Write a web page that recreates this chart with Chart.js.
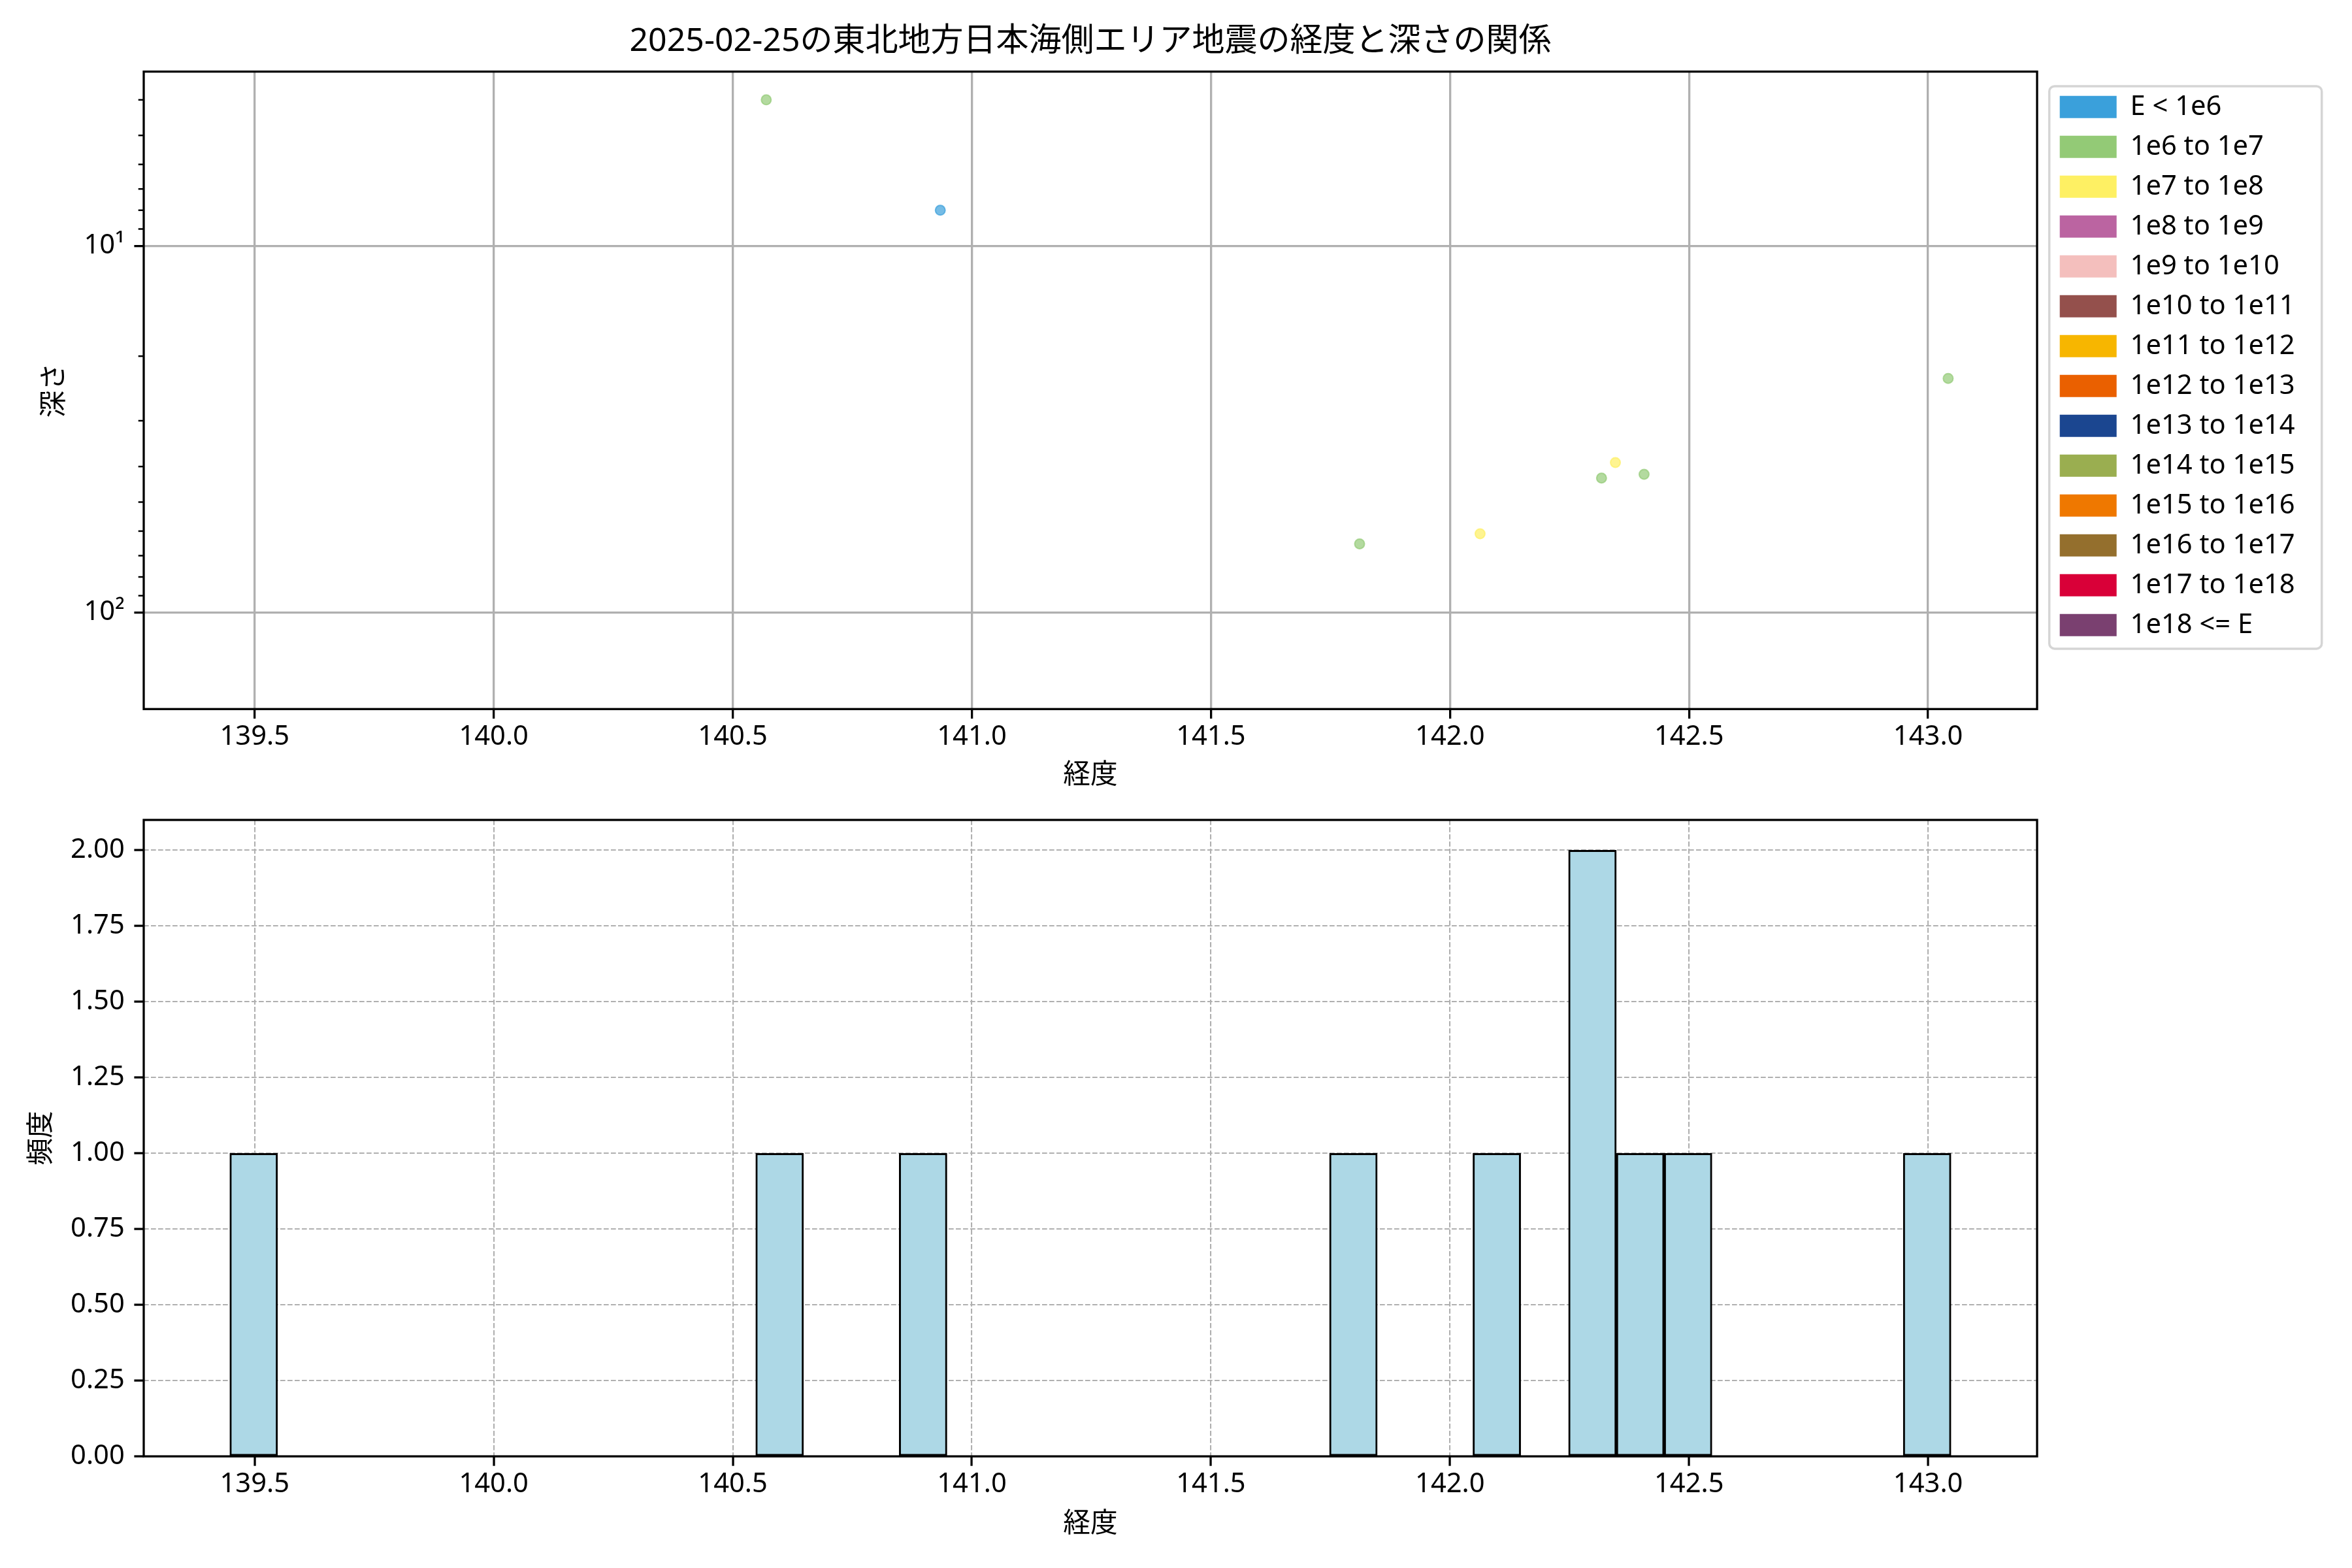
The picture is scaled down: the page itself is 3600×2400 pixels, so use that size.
<!DOCTYPE html>
<html lang="ja">
<head>
<meta charset="utf-8">
<title>経度と深さ</title>
<script src="https://cdn.jsdelivr.net/npm/chart.js@4.4.1/dist/chart.umd.min.js"></script>
<style>
  html, body { margin: 0; background: #fff; }
  #wrap { position: relative; width: 3600px; height: 2400px; }
  #depthChart { position: absolute; left: 0; top: 0; }
  #histChart { position: absolute; left: 0; top: 1215px; }
</style>
</head>
<body>
<div id="wrap">
  <canvas id="depthChart" width="3600" height="1215"></canvas>
  <canvas id="histChart" width="3600" height="1185"></canvas>
</div>
<script>
const chartTitle = '2025-02-25の東北地方日本海側エリア地震の経度と深さの関係';

const energyLabels = ['E < 1e6', '1e6 to 1e7', '1e7 to 1e8', '1e8 to 1e9', '1e9 to 1e10',
  '1e10 to 1e11', '1e11 to 1e12', '1e12 to 1e13', '1e13 to 1e14', '1e14 to 1e15',
  '1e15 to 1e16', '1e16 to 1e17', '1e17 to 1e18', '1e18 <= E'];
const energyColors = ['#3aa0db', '#93ca76', '#fef063', '#bb64a1', '#f4bfbd',
  '#94504c', '#f7b600', '#ea6000', '#1b4690', '#9aae50',
  '#ef7800', '#946f2d', '#d90038', '#7a4070'];

// visible quakes (lon, depth km, energy class index)
const quakeLon = [140.570, 140.934, 141.811, 142.063, 142.317, 142.346, 142.406, 143.042];
const quakeDepth = [4, 8, 65, 61, 43, 39, 42, 23];
const quakeClass = [1, 0, 1, 2, 1, 2, 1, 1];

// histogram bins (bin centres, width 0.1) with non-zero counts
const binCenters = [139.498, 140.598, 140.898, 141.798, 142.098, 142.298, 142.398, 142.498, 142.998];
const binCounts = [1, 1, 1, 1, 1, 2, 1, 1, 1];

const lonTicks = [139.5, 140.0, 140.5, 141.0, 141.5, 142.0, 142.5, 143.0];
const depthMajorTicks = [10, 100];
const depthMajorLabels = ['10¹', '10²'];
const depthMinorTicks = [4, 5, 6, 7, 8, 9, 20, 30, 40, 50, 60, 70, 80, 90];
const freqTicks = [0, 0.25, 0.5, 0.75, 1.0, 1.25, 1.5, 1.75, 2.0];

const lonMin = 139.268, lonMax = 143.228;
const depthMin = 3.35, depthMax = 183.4;
const plotRight = 3118;

Chart.defaults.font.family = "'Noto Sans', 'Noto Sans CJK JP', sans-serif";
Chart.defaults.font.size = 41.7;
Chart.defaults.color = '#000';

function withAlpha(hex, a) {
  const n = parseInt(hex.slice(1), 16);
  return `rgba(${(n >> 16) & 255}, ${(n >> 8) & 255}, ${n & 255}, ${a})`;
}

// black box around the plotting area (matplotlib spines)
const axesFrame = {
  id: 'axesFrame',
  afterDraw(chart) {
    const {ctx, chartArea: a} = chart;
    ctx.save();
    ctx.strokeStyle = '#000';
    ctx.lineWidth = 3.3;
    ctx.strokeRect(a.left, a.top, a.right - a.left, a.bottom - a.top);
    ctx.restore();
  }
};

const minorTicks = {
  id: 'minorTicks',
  afterDraw(chart) {
    const {ctx, chartArea: a} = chart;
    const y = chart.scales.y;
    ctx.save();
    ctx.strokeStyle = '#000';
    ctx.lineWidth = 2.5;
    depthMinorTicks.forEach(v => {
      const py = y.getPixelForValue(v);
      ctx.beginPath();
      ctx.moveTo(a.left - 8.3, py);
      ctx.lineTo(a.left, py);
      ctx.stroke();
    });
    ctx.restore();
  }
};

// legend sits just right of the axes, inside a rounded frame
const legendBox = {
  id: 'legendBox',
  afterLayout(chart) {
    const lg = chart.legend;
    const w = lg.width, h = lg.height;
    lg.left = 3133.4; lg.right = lg.left + w;
    lg.top = 123.5; lg.bottom = lg.top + h;
  },
  beforeDraw(chart) {
    const lg = chart.legend;
    const pad = lg.options.labels.padding;
    const x = lg.left + pad - 16;
    const y = lg.top + pad + 3.85 - 14.7;
    const w = 417, h = 861, r = 8;
    const ctx = chart.ctx;
    ctx.save();
    ctx.beginPath();
    ctx.moveTo(x + r, y);
    ctx.arcTo(x + w, y, x + w, y + h, r);
    ctx.arcTo(x + w, y + h, x, y + h, r);
    ctx.arcTo(x, y + h, x, y, r);
    ctx.arcTo(x, y, x + w, y, r);
    ctx.closePath();
    ctx.fillStyle = 'rgba(255,255,255,0.8)';
    ctx.fill();
    ctx.strokeStyle = '#d5d5d5';
    ctx.lineWidth = 3.5;
    ctx.stroke();
    ctx.restore();
  }
};

const scatterSets = energyLabels.map((label, c) => ({
  label,
  data: quakeLon
    .map((lon, i) => ({x: lon, y: quakeDepth[i], c: quakeClass[i]}))
    .filter(p => p.c === c),
  backgroundColor: withAlpha(energyColors[c], 0.7),
  borderColor: withAlpha(energyColors[c], 0.7),
  borderWidth: 2,
  pointRadius: 7.5,
  pointHoverRadius: 7.5
}));

const depthChart = new Chart(document.getElementById('depthChart'), {
  type: 'scatter',
  data: { datasets: scatterSets },
  options: {
    responsive: false,
    animation: false,
    events: [],
    layout: { padding: { top: 24, right: 90, bottom: 0, left: 0 } },
    plugins: {
      title: {
        display: true,
        text: chartTitle,
        fullSize: false,
        font: { size: 50, weight: 'normal' },
        padding: { top: 10, bottom: 15.6 }
      },
      legend: {
        position: 'right',
        align: 'start',
        labels: {
          boxWidth: 87,
          boxHeight: 34,
          padding: 19.3,
          font: { size: 41.7 },
          generateLabels: chart => chart.data.datasets.map((ds, i) => ({
            text: ds.label,
            fillStyle: energyColors[i],
            strokeStyle: energyColors[i],
            lineWidth: 0,
            hidden: false,
            datasetIndex: i
          }))
        }
      },
      tooltip: { enabled: false }
    },
    scales: {
      x: {
        type: 'linear',
        min: lonMin,
        max: lonMax,
        afterBuildTicks: s => { s.ticks = lonTicks.map(v => ({ value: v })); },
        afterFit: s => { s.height = 129.7; },
        grid: { color: '#b0b0b0', lineWidth: 3.3, tickColor: '#000', tickLength: 14.6, tickWidth: 3.3 },
        border: { display: false },
        ticks: { padding: 3, autoSkip: false, maxRotation: 0, callback: v => Number(v).toFixed(1) },
        title: { display: true, text: '経度', padding: { top: 0, bottom: 3 } }
      },
      y: {
        type: 'logarithmic',
        reverse: true,
        min: depthMin,
        max: depthMax,
        afterBuildTicks: s => {
          s.ticks = [...depthMinorTicks, ...depthMajorTicks].sort((a, b) => a - b).map(v => ({ value: v }));
        },
        afterFit: s => { s.width = 220; },
        grid: {
          color: c => depthMajorTicks.includes(c.tick && c.tick.value) ? '#b0b0b0' : 'rgba(0,0,0,0)',
          tickColor: c => depthMajorTicks.includes(c.tick && c.tick.value) ? '#000' : 'rgba(0,0,0,0)',
          lineWidth: 3.3, tickLength: 14.6, tickWidth: 3.3
        },
        border: { display: false },
        ticks: {
          padding: 14.6,
          autoSkip: false,
          callback: v => {
            const k = depthMajorTicks.indexOf(v);
            return k >= 0 ? depthMajorLabels[k] : '';
          }
        },
        title: { display: true, text: '深さ', padding: { top: 59, bottom: 0 } }
      }
    }
  },
  plugins: [legendBox, axesFrame, minorTicks]
});

// make the plotting area end where the reference axes end
depthChart.options.layout.padding = {
  top: 24, bottom: 0, left: 0,
  right: 90 + depthChart.chartArea.right - plotRight
};
depthChart.update();

const histChart = new Chart(document.getElementById('histChart'), {
  type: 'bar',
  data: {
    datasets: [{
      label: '頻度',
      data: binCenters.map((x, i) => ({ x, y: binCounts[i] })),
      backgroundColor: '#add8e6',
      borderColor: '#000',
      borderWidth: 3,
      borderSkipped: false,
      barPercentage: 1.0,
      categoryPercentage: 1.0
    }]
  },
  options: {
    responsive: false,
    animation: false,
    events: [],
    layout: { padding: { top: 40, right: 3600 - plotRight, bottom: 0, left: 0 } },
    plugins: { legend: { display: false }, tooltip: { enabled: false } },
    scales: {
      x: {
        type: 'linear',
        offset: false,
        min: lonMin,
        max: lonMax,
        z: 1,
        afterBuildTicks: s => { s.ticks = lonTicks.map(v => ({ value: v })); },
        afterFit: s => { s.height = 170.9; },
        grid: { offset: false, color: '#b0b0b0', lineWidth: 2.1, tickColor: '#000', tickLength: 14.6, tickWidth: 3.3 },
        border: { display: false, dash: [7.7, 3.3] },
        ticks: { padding: 3, autoSkip: false, maxRotation: 0, callback: v => Number(v).toFixed(1) },
        title: { display: true, text: '経度', padding: { top: 0, bottom: 42 } }
      },
      y: {
        min: 0,
        max: 2.1,
        z: 1,
        afterBuildTicks: s => { s.ticks = freqTicks.map(v => ({ value: v })); },
        afterFit: s => { s.width = 220; },
        grid: { color: '#b0b0b0', lineWidth: 2.1, tickColor: '#000', tickLength: 14.6, tickWidth: 3.3 },
        border: { display: false, dash: [7.7, 3.3] },
        ticks: { padding: 14.6, autoSkip: false, callback: v => Number(v).toFixed(2) },
        title: { display: true, text: '頻度', padding: { top: 39, bottom: 0 } }
      }
    }
  },
  plugins: [axesFrame]
});
</script>
</body>
</html>
